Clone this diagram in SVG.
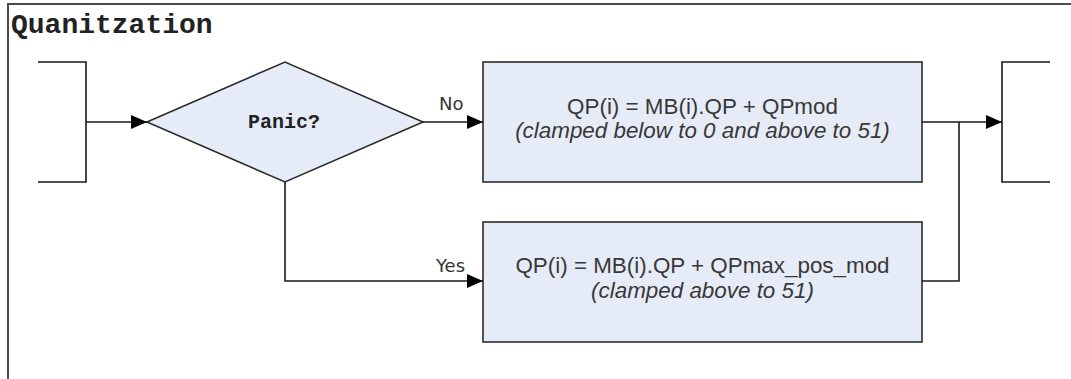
<svg xmlns="http://www.w3.org/2000/svg" width="1071" height="379" viewBox="0 0 1071 379">
<defs>
<style>
.frame{fill:none;stroke:#4a4a4a;stroke-width:2}
.ln{fill:none;stroke:#1a1a1a;stroke-width:1.6}
.shape{fill:#e6ecf7;stroke:#2b2b2b;stroke-width:1.6}
.mono{font-family:"Liberation Mono","Courier New",monospace;font-weight:bold;fill:#222}
.t{font-family:"Liberation Sans",Arial,sans-serif;font-size:22.4px;fill:#383838;text-anchor:middle}
.ti{font-style:italic}
.lbl{font-family:"DejaVu Sans",Tahoma,sans-serif;font-size:18px;fill:#333}
</style>
<marker id="arr" viewBox="0 0 16 14" refX="16" refY="7" markerWidth="16" markerHeight="14" markerUnits="userSpaceOnUse" orient="auto">
<path d="M0,0 L16,7 L0,14 Z" fill="#000"/>
</marker>
</defs>
<rect width="1071" height="379" fill="#fff"/>
<path class="frame" d="M8,380 V4 H1072"/>
<text class="mono" x="11" y="33" font-size="28">Quanitzation</text>

<g id="input">
<path class="ln" d="M38,62 H86 V182 H38"/>
</g>
<g id="output">
<path class="ln" d="M1050,62 H1002 V182 H1050"/>
</g>
<g id="decision">
<polygon class="shape" points="147,122 285,62 423,122 285,182"/>
<text class="mono" x="284" y="128" font-size="20" text-anchor="middle">Panic?</text>
</g>
<g id="box-no">
<rect class="shape" x="483" y="62" width="439" height="120"/>
<text class="t" x="702.5" y="114">QP(i) = MB(i).QP + QPmod</text>
<text class="t ti" x="702.5" y="138">(clamped below to 0 and above to 51)</text>
</g>
<g id="box-yes">
<rect class="shape" x="483" y="222" width="439" height="120"/>
<text class="t" x="702.5" y="273">QP(i) = MB(i).QP + QPmax_pos_mod</text>
<text class="t ti" x="702.5" y="298">(clamped above to 51)</text>
</g>
<g id="connectors">
<path class="ln" d="M86,122 H147" marker-end="url(#arr)"/>
<path class="ln" d="M423,122 H483" marker-end="url(#arr)"/>
<path class="ln" d="M285,182 V281 H483" marker-end="url(#arr)"/>
<path class="ln" d="M922,122 H1002" marker-end="url(#arr)"/>
<path class="ln" d="M922,281 H959 V122"/>
<text class="lbl" x="439" y="110">No</text>
<text class="lbl" x="436" y="272">Yes</text>
</g>
</svg>
